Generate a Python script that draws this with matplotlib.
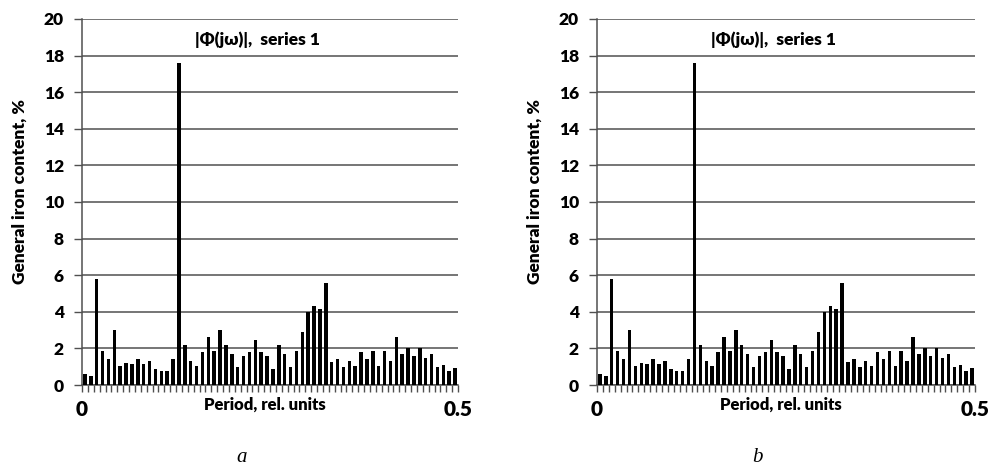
import numpy as np
import matplotlib
matplotlib.use("Agg")
import matplotlib.pyplot as plt

plt.rcParams['font.family'] = ['Lato', 'DejaVu Sans']

# amplitude spectrum values, % (64 bars)
values_a = [0.58, 0.48, 5.8, 1.85, 1.4, 3.0, 1.05, 1.22, 1.15, 1.4, 1.15, 1.32,
            0.87, 0.78, 0.78, 1.42, 17.6, 2.2, 1.32, 1.05, 1.78, 2.65, 1.85, 3.0,
            2.2, 1.7, 0.97, 1.6, 1.78, 2.48, 1.78, 1.6, 0.87, 2.2, 1.7, 0.97,
            1.85, 2.9, 4.0, 4.3, 4.15, 5.6, 1.25, 1.4, 0.97, 1.32, 1.05, 1.78,
            1.4, 1.85, 1.05, 1.85, 1.32, 2.65, 1.7, 2.0, 1.6, 2.0, 1.5, 1.7,
            0.97, 1.12, 0.78, 0.95]
values_b = list(values_a)

y_ticks = list(range(0, 21, 2))
x_tick_labels = ['0', '0.5']
title = '|\u03a6(j\u03c9)|,  series 1'
x_label = 'Period, rel. units'
y_label = 'General iron content, %'
panel_labels = ['a', 'b']

W, H = 991, 465
fig = plt.figure(figsize=(W / 100, H / 100), dpi=100)

grid_col = '#505050'
wt = 'heavy'


def draw_panel(left_px, width_px, values, letter):
    ax = fig.add_axes([left_px / W, 1 - 385 / H, width_px / W, 366 / H])
    n = len(values)
    x = np.arange(n)
    ax.bar(x, values, width=0.58, color='black', zorder=3)
    ax.set_xlim(-0.5, n - 0.5)
    ax.set_ylim(0, 20)

    ax.set_yticks(y_ticks)
    ax.set_yticklabels([str(v) for v in y_ticks], fontsize=12.5, fontweight=wt)
    ax.yaxis.grid(True, color=grid_col, linewidth=1.1)
    ax.set_axisbelow(True)
    ax.tick_params(axis='y', length=6, width=1, color=grid_col, pad=7)

    edges = np.arange(-0.5, n, 1.0)
    labels = [''] * len(edges)
    labels[0] = x_tick_labels[0]
    labels[-1] = x_tick_labels[1]
    ax.set_xticks(edges)
    ax.set_xticklabels(labels, fontsize=15, fontweight=wt)
    ax.tick_params(axis='x', length=5, width=1, color=grid_col, pad=6)

    for s in ['top', 'right']:
        ax.spines[s].set_visible(False)
    for s in ['left', 'bottom']:
        ax.spines[s].set_color(grid_col)
        ax.spines[s].set_linewidth(1.1)

    ax.text(0.467, 0.943, title, transform=ax.transAxes, ha='center', va='center',
            fontsize=12.5, fontweight=wt)
    ax.text(0.487, -0.055, x_label, transform=ax.transAxes, ha='center', va='center',
            fontsize=12, fontweight=wt)
    ax.text(-0.165, 0.53, y_label, transform=ax.transAxes, ha='center', va='center',
            rotation=90, fontsize=12.5, fontweight=wt)
    fig.text((left_px + 160) / W, 1 - 457 / H, letter, ha='center', va='center',
             fontsize=15, style='italic', family='Liberation Serif')
    return ax


draw_panel(82, 376, values_a, panel_labels[0])
draw_panel(597, 378, values_b, panel_labels[1])

fig.savefig('out.png', dpi=100)
